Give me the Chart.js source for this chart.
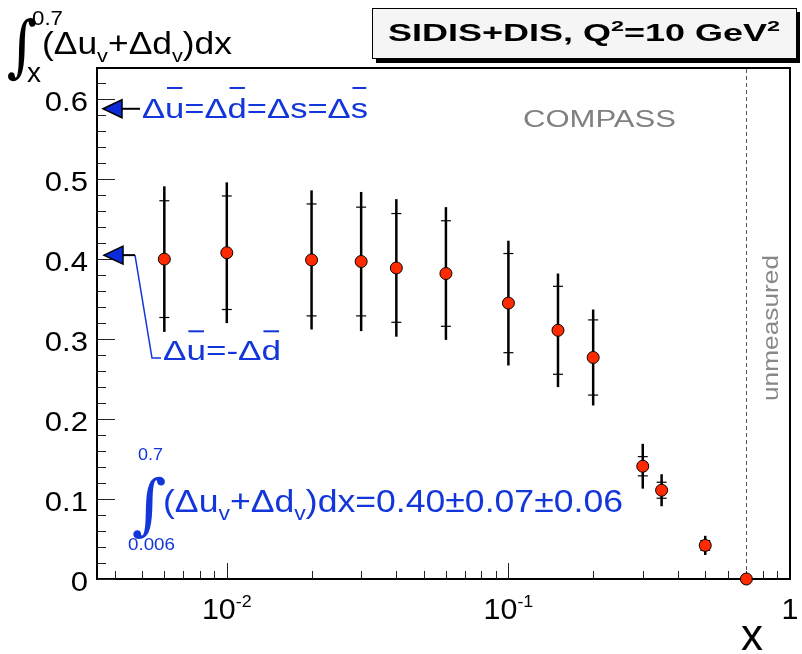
<!DOCTYPE html>
<html>
<head>
<meta charset="utf-8">
<script src="https://cdn.jsdelivr.net/npm/chart.js@4.4.0/dist/chart.umd.min.js"></script>
<style>
html, body { margin: 0; padding: 0; background: #fff; }
canvas { display: block; }
</style>
</head>
<body>
<canvas id="myChart" width="802" height="654"></canvas>
<script>
// data
const xVals = [0.006, 0.01, 0.02, 0.03, 0.04, 0.06, 0.1, 0.15, 0.2, 0.3, 0.35, 0.5, 0.7]
const yVals = [0.400, 0.408, 0.399, 0.397, 0.389, 0.382, 0.345, 0.311, 0.277, 0.141, 0.111, 0.042, 0.0]
const statErr = [0.073, 0.071, 0.070, 0.068, 0.068, 0.066, 0.062, 0.055, 0.047, 0.012, 0.010, 0.006, 0]
const totErr = [0.091, 0.088, 0.087, 0.087, 0.086, 0.083, 0.078, 0.071, 0.060, 0.028, 0.020, 0.012, 0]

const yTicks = [0, 0.1, 0.2, 0.3, 0.4, 0.5, 0.6]
const xTicks = [0.01, 0.1, 1]
const xTickBase = ['10', '10', '1']
const xTickExp = ['-2', '-1', '']

const arrowVals = [0.588, 0.405]   // Δū=Δd̄=Δs=Δs̄ and Δū=-Δd̄
const unmeasuredFrom = 0.7

const FONT = '"Liberation Sans", Arial, Helvetica, sans-serif'
const BLUE = '#1236d9'

function seg(t, size, dy, extra) {
  return Object.assign({t: t, size: size, dy: dy || 0}, extra || {})
}

// draws a run of text pieces (sub/superscripts, overbars), squeezed/stretched to width w
function richText(ctx, segs, x, y, opt) {
  ctx.save()
  ctx.fillStyle = opt.color || '#000'
  ctx.textAlign = 'left'
  ctx.textBaseline = 'alphabetic'
  let widths = [], total = 0
  segs.forEach(s => {
    ctx.font = (s.bold ? 'bold ' : '') + s.size + 'px ' + FONT
    let w = ctx.measureText(s.t).width
    widths.push(w)
    total += w
  })
  let sx = opt.w ? opt.w / total : (opt.sx || 1)
  let left = x
  if (opt.align == 'center') left = x - total * sx / 2
  if (opt.align == 'right') left = x - total * sx
  ctx.translate(left, y)
  ctx.scale(sx, 1)
  let cx = 0
  segs.forEach((s, i) => {
    ctx.font = (s.bold ? 'bold ' : '') + s.size + 'px ' + FONT
    ctx.fillText(s.t, cx, s.dy)
    if (s.bar) ctx.fillRect(cx + widths[i] * 0.1, s.dy - s.size * 1.1, widths[i] * 0.8, 2)
    cx += widths[i]
  })
  ctx.restore()
}

// fits one glyph into a box (used for the integral signs)
function fitGlyph(ctx, ch, family, left, top, w, h, color) {
  ctx.save()
  ctx.font = '100px ' + family
  ctx.textAlign = 'left'
  ctx.textBaseline = 'alphabetic'
  let m = ctx.measureText(ch)
  let bw = m.actualBoundingBoxLeft + m.actualBoundingBoxRight
  let bh = m.actualBoundingBoxAscent + m.actualBoundingBoxDescent
  ctx.translate(left, top)
  ctx.scale(w / bw, h / bh)
  ctx.fillStyle = color
  ctx.fillText(ch, m.actualBoundingBoxLeft, m.actualBoundingBoxAscent)
  ctx.restore()
}

function line(ctx, x1, y1, x2, y2) {
  ctx.beginPath()
  ctx.moveTo(x1, y1)
  ctx.lineTo(x2, y2)
  ctx.stroke()
}

function arrowHead(ctx, tipX, py) {
  ctx.beginPath()
  ctx.moveTo(tipX, py)
  ctx.lineTo(tipX + 19, py - 9)
  ctx.lineTo(tipX + 19, py + 9)
  ctx.closePath()
  ctx.fillStyle = '#0b2bd8'
  ctx.fill()
  ctx.lineWidth = 1.5
  ctx.strokeStyle = '#000'
  ctx.stroke()
}

const decor = {
  id: 'decor',
  beforeDatasetsDraw(chart) {
    const {ctx, chartArea: a, scales: {x, y}} = chart
    ctx.save()

    // frame
    ctx.strokeStyle = '#000'
    ctx.lineWidth = 2
    ctx.strokeRect(a.left, a.top, a.right - a.left, a.bottom - a.top)

    // ticks, drawn inwards
    ctx.lineWidth = 1
    ctx.strokeStyle = '#222'
    for (let i = 0; i * 0.02 <= y.max; i++) {
      let py = Math.round(y.getPixelForValue(i * 0.02)) + 0.5
      line(ctx, a.left, py, a.left + (i % 5 == 0 ? 18 : 9), py)
    }
    for (let d = -3; d <= 0; d++) {
      for (let m = 1; m <= 9; m++) {
        let v = m * Math.pow(10, d)
        if (v <= x.min || v >= x.max) continue
        let px = Math.round(x.getPixelForValue(v)) + 0.5
        line(ctx, px, a.bottom, px, a.bottom - (m == 1 ? 16 : 8))
      }
    }

    // error bars: total = long line, statistical = small ticks
    ctx.strokeStyle = '#000'
    xVals.forEach((xv, i) => {
      if (!totErr[i]) return
      let px = x.getPixelForValue(xv)
      ctx.lineWidth = 2.5
      line(ctx, px, y.getPixelForValue(yVals[i] + totErr[i]), px, y.getPixelForValue(yVals[i] - totErr[i]))
      ctx.lineWidth = 1.2
      ;[yVals[i] + statErr[i], yVals[i] - statErr[i]].forEach(v => {
        let py = y.getPixelForValue(v)
        line(ctx, px - 5, py, px + 5, py)
      })
    })
    ctx.restore()
  },
  afterDatasetsDraw(chart) {
    const {ctx, chartArea: a, scales: {x}} = chart
    // unmeasured region boundary, drawn over the markers
    ctx.save()
    ctx.strokeStyle = '#555'
    ctx.lineWidth = 1
    ctx.setLineDash([4, 3])
    let ux = Math.round(x.getPixelForValue(unmeasuredFrom)) + 0.5
    line(ctx, ux, a.top + 1, ux, a.bottom - 6)
    ctx.restore()
  },
  afterDraw(chart) {
    const {ctx, chartArea: a, scales: {x, y}} = chart
    ctx.save()

    // axis labels
    yTicks.forEach(v => {
      let label = v == 0 ? '0' : v.toFixed(1)
      richText(ctx, [seg(label, 27)], 88, y.getPixelForValue(v) + 12, {align: 'right', sx: 1.15})
    })
    xTicks.forEach((v, i) => {
      let segs = [seg(xTickBase[i], 29)]
      if (xTickExp[i]) segs.push(seg(xTickExp[i], 17, -12))
      richText(ctx, segs, x.getPixelForValue(v), 619, {align: 'center', sx: 1.05})
    })
    richText(ctx, [seg('x', 44)], 752, 650, {align: 'center'})

    // y title
    fitGlyph(ctx, '\u222B', '"DejaVu Serif"', 8, 18, 28, 64, '#000')
    richText(ctx, [seg('0.7', 21)], 32, 25, {w: 31})
    richText(ctx, [seg('x', 27)], 27, 82, {w: 14})
    richText(ctx, [seg('(\u0394u', 31), seg('v', 19, 8), seg('+\u0394d', 31), seg('v', 19, 8), seg(')dx', 31)],
      42, 54, {w: 190})

    // title box
    ctx.fillStyle = '#000'
    ctx.fillRect(376, 59, 424, 4)
    ctx.fillRect(797, 12, 3, 51)
    ctx.fillStyle = '#f5f5f5'
    ctx.fillRect(372, 8, 425, 51)
    ctx.strokeStyle = '#000'
    ctx.lineWidth = 1
    ctx.strokeRect(372.5, 8.5, 424, 50)
    richText(ctx, [seg('SIDIS+DIS, Q', 23, 0, {bold: true}), seg('2', 15, -10, {bold: true}),
      seg('=10 GeV', 23, 0, {bold: true}), seg('2', 15, -10, {bold: true})], 388, 41, {w: 392})

    // COMPASS / unmeasured
    richText(ctx, [seg('COMPASS', 24)], 523, 127, {w: 153, color: '#808080'})
    ctx.save()
    ctx.translate(778, 328)
    ctx.rotate(-Math.PI / 2)
    richText(ctx, [seg('unmeasured', 22)], 0, 0, {align: 'center', w: 146, color: '#888'})
    ctx.restore()

    // arrow 1: Δū=Δd̄=Δs=Δs̄
    let p1 = y.getPixelForValue(arrowVals[0])
    ctx.strokeStyle = '#000'
    ctx.lineWidth = 2
    line(ctx, a.left + 25, p1, a.left + 43, p1)
    arrowHead(ctx, a.left + 6, p1)
    richText(ctx, [seg('\u0394', 28), seg('u', 28, 0, {bar: true}), seg('=\u0394', 28), seg('d', 28, 0, {bar: true}),
      seg('=\u0394s=\u0394', 28), seg('s', 28, 0, {bar: true})], 142, p1 + 9, {w: 226, color: BLUE})

    // arrow 2: Δū=-Δd̄
    let p2 = y.getPixelForValue(arrowVals[1])
    ctx.strokeStyle = BLUE
    ctx.lineWidth = 1.5
    ctx.beginPath()
    ctx.moveTo(a.left + 38, p2)
    ctx.lineTo(152, 358)
    ctx.lineTo(161, 358)
    ctx.stroke()
    ctx.strokeStyle = '#000'
    ctx.lineWidth = 2
    line(ctx, a.left + 25, p2, a.left + 38, p2)
    arrowHead(ctx, a.left + 7, p2)
    richText(ctx, [seg('\u0394', 27), seg('u', 27, 0, {bar: true}), seg('=-\u0394', 27), seg('d', 27, 0, {bar: true})],
      163, 360, {w: 118, color: BLUE})

    // integral result
    richText(ctx, [seg('0.7', 17)], 138, 460, {w: 25, color: BLUE})
    fitGlyph(ctx, '\u222B', '"DejaVu Serif"', 133, 477, 32, 63, BLUE)
    richText(ctx, [seg('0.006', 17)], 128, 550, {w: 47, color: BLUE})
    richText(ctx, [seg('(\u0394u', 31), seg('v', 20, 8), seg('+\u0394d', 31), seg('v', 20, 8),
      seg(')dx=0.40\u00B10.07\u00B10.06', 31)], 163, 512, {w: 460, color: BLUE})

    ctx.restore()
  }
}

const ctx = document.getElementById('myChart').getContext('2d')
const chart = new Chart(ctx, {
  type: 'scatter',
  data: {
    datasets: [{
      data: xVals.map((xv, i) => ({x: xv, y: yVals[i]})),
      pointRadius: 6,
      pointBackgroundColor: '#ff2a00',
      pointBorderColor: '#000',
      pointBorderWidth: 1,
      clip: false
    }]
  },
  options: {
    responsive: false,
    animation: false,
    events: [],
    layout: {padding: {left: 97, right: 12, top: 68, bottom: 75}},
    plugins: {legend: {display: false}, tooltip: {enabled: false}},
    scales: {
      x: {type: 'logarithmic', min: 0.00346, max: 1, display: false},
      y: {type: 'linear', min: 0, max: 0.639, display: false}
    }
  },
  plugins: [decor]
})
</script>
</body>
</html>
